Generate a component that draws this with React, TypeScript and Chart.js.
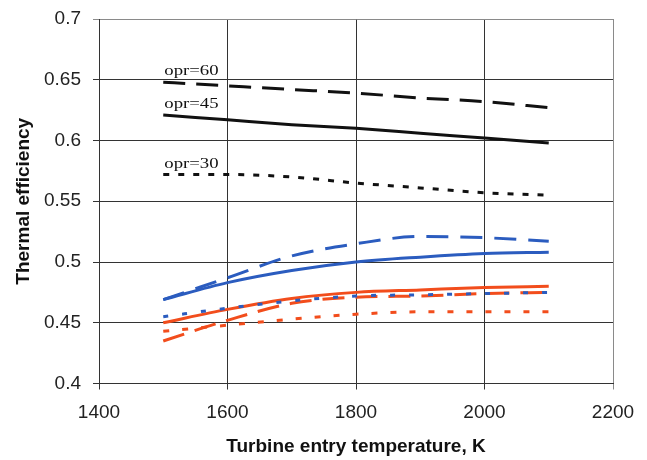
import React, { useEffect, useRef } from "react";
import { Chart, registerables } from "chart.js";

Chart.register(...registerables);

const temps = [1500, 1600, 1700, 1800, 1900, 2000, 2100];
const xTicks = [1400, 1600, 1800, 2000, 2200];
const yTicks = [0.4, 0.45, 0.5, 0.55, 0.6, 0.65, 0.7];

const opr60 = [0.648, 0.645, 0.642, 0.639, 0.635, 0.632, 0.627];
const opr45 = [0.621, 0.617, 0.613, 0.61, 0.606, 0.602, 0.598];
const opr30 = [0.572, 0.572, 0.57, 0.565, 0.561, 0.557, 0.555];
const blueSolid = [0.469, 0.483, 0.493, 0.5, 0.504, 0.507, 0.508];
const blueDash = [0.469, 0.487, 0.505, 0.515, 0.521, 0.52, 0.517];
const blueDot = [0.455, 0.462, 0.468, 0.472, 0.473, 0.474, 0.475];
const orangeSolid = [0.45, 0.461, 0.47, 0.475, 0.477, 0.479, 0.48];
const orangeDash = [0.435, 0.452, 0.466, 0.471, 0.472, 0.474, 0.475];
const orangeDot = [0.443, 0.448, 0.453, 0.457, 0.459, 0.459, 0.459];

const oprLabels = ["opr=60", "opr=45", "opr=30"];
const oprSeries = [opr60, opr45, opr30];

const xTitle = "Turbine entry temperature, K";
const yTitle = "Thermal efficiency";

const BLACK = "#111111";
const BLUE = "#2b5cbf";
const ORANGE = "#f24d1c";

function pts(vals: number[]) {
  return temps.map((t, i) => ({ x: t, y: vals[i] }));
}

function ds(vals: number[], color: string, dash: number[], width = 3) {
  return {
    data: pts(vals),
    borderColor: color,
    borderWidth: width,
    borderDash: dash,
    borderCapStyle: "butt" as const,
    pointRadius: 0,
    fill: false,
    cubicInterpolationMode: "monotone" as const,
  };
}

const labelPlugin = {
  id: "oprLabels",
  afterDatasetsDraw(chart: any) {
    const { ctx, scales } = chart;
    const xs = scales.x;
    const ys = scales.y;
    ctx.save();
    ctx.fillStyle = "#111";
    ctx.font = "15px 'Liberation Serif', 'Times New Roman', serif";
    ctx.textBaseline = "alphabetic";
    oprLabels.forEach((lab, i) => {
      const px = xs.getPixelForValue(temps[0]) + 1;
      const py = ys.getPixelForValue(oprSeries[i][0]) - 7;
      ctx.save();
      ctx.translate(px, py);
      ctx.scale(1.25, 1);
      ctx.fillText(lab, 0, 0);
      ctx.restore();
    });
    ctx.restore();
  },
};

export default function App() {
  const ref = useRef<HTMLCanvasElement | null>(null);

  useEffect(() => {
    document.body.style.margin = "0";
    const canvas = ref.current;
    if (!canvas) return;
    const font = "'Liberation Sans', Arial, sans-serif";
    const chart = new Chart(canvas, {
      type: "line",
      data: {
        datasets: [
          ds(opr60, BLACK, [22, 11]),
          ds(opr45, BLACK, []),
          ds(opr30, BLACK, [6, 9]),
          ds(blueDash, BLUE, [22, 12]),
          ds(blueSolid, BLUE, []),
          ds(blueDot, BLUE, [5, 14]),
          ds(orangeSolid, ORANGE, []),
          ds(orangeDash, ORANGE, [22, 11]),
          ds(orangeDot, ORANGE, [6, 13]),
        ] as any,
      },
      options: {
        animation: false,
        responsive: false,
        maintainAspectRatio: false,
        layout: { padding: { top: 19, right: 34, left: 0, bottom: 0 } },
        plugins: {
          legend: { display: false },
          tooltip: { enabled: false },
        },
        scales: {
          x: {
            type: "linear",
            min: xTicks[0],
            max: xTicks[xTicks.length - 1],
            afterBuildTicks: (s: any) => {
              s.ticks = xTicks.map((v) => ({ value: v }));
            },
            afterFit: (s: any) => {
              s.height = 76.5;
              s.paddingLeft = 0;
              s.paddingRight = 0;
            },
            ticks: {
              color: "#222",
              font: { family: font, size: 19 },
              padding: 12,
              maxRotation: 0,
              callback: (v: any) => String(v),
            },
            grid: {
              color: (c: any) => (c.tick && c.tick.value === 2200 ? "#8a8a8a" : "#333"),
              lineWidth: 1,
              tickLength: 6,
              drawTicks: true,
            },
            border: { display: true, color: "#333", width: 1 },
            title: {
              display: true,
              text: xTitle,
              color: "#111",
              font: { family: font, size: 19, weight: "bold" },
              padding: { top: 0, bottom: 2 },
            },
          },
          y: {
            type: "linear",
            min: yTicks[0],
            max: yTicks[yTicks.length - 1],
            afterBuildTicks: (s: any) => {
              s.ticks = yTicks.map((v) => ({ value: v }));
            },
            afterFit: (s: any) => {
              s.width = 99;
              s.paddingTop = 0;
              s.paddingBottom = 0;
            },
            ticks: {
              color: "#222",
              font: { family: font, size: 19 },
              padding: 12,
              callback: (v: any) => String(Number(Number(v).toFixed(2))),
            },
            grid: {
              color: (c: any) => (c.tick && Math.abs(c.tick.value - 0.7) < 1e-6 ? "#8a8a8a" : "#333"),
              lineWidth: 1,
              tickLength: 6,
              drawTicks: true,
            },
            border: { display: true, color: "#333", width: 1 },
            title: {
              display: true,
              text: yTitle,
              color: "#111",
              font: { family: font, size: 19, weight: "bold" },
              padding: { top: 12, bottom: 0 },
            },
          },
        },
      },
      plugins: [labelPlugin],
    });
    return () => chart.destroy();
  }, []);

  return (
    <div style={{ width: 647, height: 460, background: "#fff" }}>
      <canvas ref={ref} width={647} height={460} style={{ display: "block" }} />
    </div>
  );
}
